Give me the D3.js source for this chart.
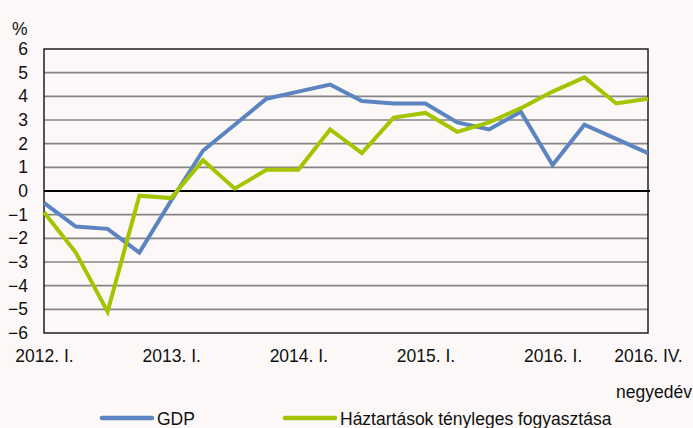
<!DOCTYPE html>
<html>
<head>
<meta charset="utf-8">
<script src="https://cdn.jsdelivr.net/npm/d3@7"></script>
<style>
  body { margin: 0; background: #fbf8f7; }
  svg { display: block; font-family: "Liberation Sans", Arial, sans-serif; }
</style>
</head>
<body>
<script>
// quarters 2012 Q1 .. 2016 Q4
const quarters = ["2012. I.", "2012. II.", "2012. III.", "2012. IV.",
  "2013. I.", "2013. II.", "2013. III.", "2013. IV.",
  "2014. I.", "2014. II.", "2014. III.", "2014. IV.",
  "2015. I.", "2015. II.", "2015. III.", "2015. IV.",
  "2016. I.", "2016. II.", "2016. III.", "2016. IV."];

const gdp = [-0.5, -1.5, -1.6, -2.6, -0.4, 1.7, 2.8, 3.9, 4.2, 4.5, 3.8, 3.7,
  3.7, 2.9, 2.6, 3.35, 1.1, 2.8, 2.2, 1.6];

const consumption = [-0.9, -2.6, -5.1, -0.2, -0.3, 1.3, 0.1, 0.9, 0.9, 2.6, 1.6, 3.1,
  3.3, 2.5, 2.9, 3.5, 4.2, 4.8, 3.7, 3.9];

const xLabels = ["2012. I.", "2013. I.", "2014. I.", "2015. I.", "2016. I.", "2016. IV."];
const yTicks = d3.range(-6, 7, 1);

const seriesNames = ["GDP", "Háztartások tényleges fogyasztása"];
const colors = ["#5b84c0", "#a5c400"];

const W = 693, H = 428;
const svg = d3.select("body").append("svg")
  .attr("width", W)
  .attr("height", H);

svg.append("rect").attr("width", W).attr("height", H).attr("fill", "#fbf8f7");

const m = {left: 44, right: 648, top: 49, bottom: 333};

const x = d3.scalePoint()
  .domain(quarters)
  .range([m.left, m.right]);

const y = d3.scaleLinear()
  .domain([-6, 6])
  .range([m.bottom, m.top]);

// gridlines
svg.append("g")
  .selectAll("line")
  .data(yTicks.filter(d => d !== 0 && d !== 6 && d !== -6))
  .join("line")
  .attr("x1", m.left)
  .attr("x2", m.right)
  .attr("y1", d => y(d))
  .attr("y2", d => y(d))
  .attr("stroke", "#858585")
  .attr("stroke-width", 1.6);

// frame
svg.append("rect")
  .attr("x", m.left)
  .attr("y", m.top)
  .attr("width", m.right - m.left)
  .attr("height", m.bottom - m.top)
  .attr("fill", "none")
  .attr("stroke", "#111")
  .attr("stroke-width", 1.4);

// zero line
svg.append("line")
  .attr("x1", m.left)
  .attr("x2", m.right + 2)
  .attr("y1", y(0))
  .attr("y2", y(0))
  .attr("stroke", "#000")
  .attr("stroke-width", 2.2);

// y tick labels
const yAxis = d3.axisLeft(y).tickValues(yTicks).tickSize(0).tickPadding(16);
const gy = svg.append("g")
  .attr("transform", `translate(${m.left},0)`)
  .call(yAxis);
gy.select(".domain").remove();
gy.selectAll("text")
  .attr("font-size", "17.5px")
  .attr("font-family", "'Liberation Sans', Arial, sans-serif")
  .attr("fill", "#111");

svg.append("text")
  .attr("x", 12)
  .attr("y", 35)
  .attr("font-size", "17.5px")
  .attr("fill", "#111")
  .text("%");

// x tick labels
const xAxis = d3.axisBottom(x)
  .tickValues(xLabels.map((d, i) => i === xLabels.length - 1 ? quarters[quarters.length - 1] : d))
  .tickFormat((d, i) => xLabels[i])
  .tickSize(0)
  .tickPadding(17);
const gx = svg.append("g")
  .attr("transform", `translate(0,${m.bottom})`)
  .call(xAxis);
gx.select(".domain").remove();
gx.selectAll("text")
  .attr("font-size", "17.5px")
  .attr("font-family", "'Liberation Sans', Arial, sans-serif")
  .attr("fill", "#111");

svg.append("text")
  .attr("x", 692)
  .attr("y", 398)
  .attr("text-anchor", "end")
  .attr("font-size", "17.5px")
  .attr("fill", "#111")
  .text("negyedév");

// lines
const line = d3.line()
  .x((d, i) => x(quarters[i]))
  .y(d => y(d));

[gdp, consumption].forEach((s, k) => {
  svg.append("path")
    .datum(s)
    .attr("d", line)
    .attr("fill", "none")
    .attr("stroke", colors[k])
    .attr("stroke-width", 4)
    .attr("stroke-linejoin", "miter");
});

// legend
const legendX = [100, 283];
const legend = svg.append("g");
seriesNames.forEach((name, k) => {
  legend.append("line")
    .attr("x1", legendX[k] + 2)
    .attr("x2", legendX[k] + 52)
    .attr("y1", 418)
    .attr("y2", 418)
    .attr("stroke", colors[k])
    .attr("stroke-width", 4.5)
    .attr("stroke-linecap", "round");
  legend.append("text")
    .attr("x", legendX[k] + 57)
    .attr("y", 425)
    .attr("font-size", "17.5px")
    .attr("fill", "#111")
    .text(name);
});
</script>
</body>
</html>
